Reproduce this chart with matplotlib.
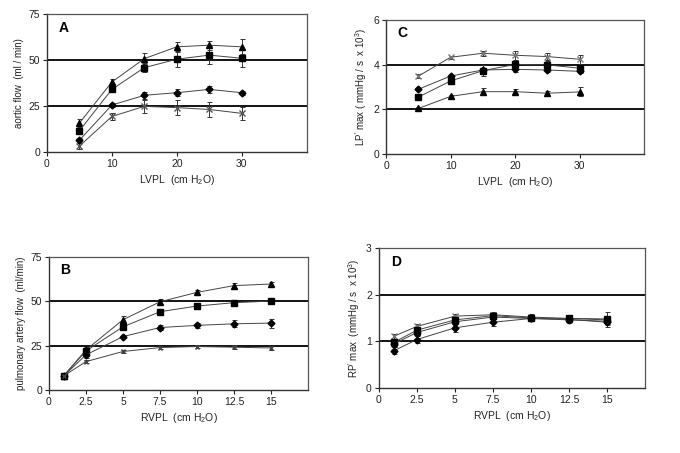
import matplotlib
matplotlib.use("Agg")
import matplotlib.pyplot as plt

plt.rcParams['font.family'] = ['Liberation Sans', 'DejaVu Sans']
plt.rcParams['mathtext.fontset'] = 'custom'
plt.rcParams['mathtext.rm'] = 'Liberation Sans'
plt.rcParams['mathtext.it'] = 'Liberation Sans'

# Panel A: aortic flow vs LVPL
lvpl = [5, 10, 15, 20, 25, 30]
a_tri = [15.8, 38.1, 50.8, 57.2, 58.1, 57.2]
a_tri_err = [2.0, 1.5, 3.0, 2.5, 2.5, 4.0]
a_sq = [11.6, 34.1, 45.9, 50.5, 52.7, 51.0]
a_sq_err = [1.0, 1.0, 2.5, 4.0, 5.0, 5.0]
a_dia = [6.5, 25.6, 30.9, 32.3, 34.1, 32.3]
a_dia_err = [1.0, 1.0, 2.0, 2.0, 2.0, 1.0]
a_star = [3.3, 19.4, 24.9, 24.2, 23.2, 21.1]
a_star_err = [1.5, 2.0, 3.5, 4.0, 4.0, 3.5]

# Panel C: LP' max vs LVPL
c_star = [3.49, 4.33, 4.51, 4.42, 4.36, 4.24]
c_star_err = [0.07, 0.07, 0.12, 0.2, 0.15, 0.2]
c_dia = [2.90, 3.49, 3.76, 3.79, 3.76, 3.70]
c_dia_err = [0.04, 0.06, 0.1, 0.1, 0.08, 0.08]
c_sq = [2.55, 3.27, 3.73, 4.01, 3.99, 3.84]
c_sq_err = [0.05, 0.1, 0.25, 0.2, 0.15, 0.15]
c_tri = [2.04, 2.58, 2.79, 2.79, 2.72, 2.78]
c_tri_err = [0.05, 0.07, 0.15, 0.12, 0.12, 0.2]

# Panel B: pulmonary artery flow vs RVPL
rvpl = [1, 2.5, 5, 7.5, 10, 12.5, 15]
b_tri = [8.0, 22.6, 39.6, 49.7, 55.0, 58.8, 59.7]
b_tri_err = [0.8, 1.5, 2.0, 1.5, 1.5, 1.5, 1.2]
b_sq = [8.1, 22.0, 35.6, 44.1, 47.3, 49.2, 50.1]
b_sq_err = [0.8, 1.5, 1.5, 1.2, 1.2, 1.0, 1.0]
b_dia = [8.0, 19.8, 30.1, 35.2, 36.4, 37.3, 37.7]
b_dia_err = [0.8, 1.5, 1.0, 1.5, 1.5, 2.0, 2.5]
b_star = [8.0, 16.0, 21.7, 23.9, 24.5, 24.1, 23.7]
b_star_err = [0.8, 1.0, 1.0, 1.0, 1.0, 1.0, 1.0]

# Panel D: RP' max vs RVPL
d_star = [1.11, 1.32, 1.54, 1.57, 1.52, 1.49, 1.46]
d_star_err = [0.05, 0.05, 0.04, 0.05, 0.06, 0.05, 0.16]
d_sq = [0.98, 1.24, 1.46, 1.55, 1.50, 1.49, 1.48]
d_sq_err = [0.06, 0.05, 0.05, 0.05, 0.05, 0.05, 0.06]
d_dia = [0.95, 1.19, 1.42, 1.52, 1.49, 1.46, 1.43]
d_dia_err = [0.06, 0.05, 0.05, 0.05, 0.05, 0.05, 0.05]
d_tri = [0.80, 1.04, 1.29, 1.41, 1.49, 1.47, 1.41]
d_tri_err = [0.07, 0.07, 0.08, 0.08, 0.05, 0.05, 0.05]

fig = plt.figure(figsize=(6.8, 4.53), dpi=100)

def style(ax, xlim, xticks, xticklabels, ylim, yticks, ylabel, xlabel, letter):
    ax.set_xlim(*xlim)
    ax.set_ylim(*ylim)
    ax.set_xticks(xticks)
    ax.set_xticklabels(xticklabels)
    ax.set_yticks(yticks)
    for y in yticks[1:-1]:
        ax.axhline(y, color='black', lw=1.3, zorder=1)
    for s in ['left', 'bottom']:
        ax.spines[s].set_color('#333333')
        ax.spines[s].set_linewidth(1.0)
    for s in ['top', 'right']:
        ax.spines[s].set_color('#555555')
        ax.spines[s].set_linewidth(0.9)
    ax.tick_params(axis='both', labelsize=7.5, colors='#222222', length=3, width=0.8,
                   direction='out', pad=2)
    ax.set_ylabel(ylabel, fontsize=7, color='#222222', labelpad=3)
    ax.set_xlabel(xlabel, fontsize=7.5, color='#222222', labelpad=3)
    ax.text(0.045, 0.9, letter, transform=ax.transAxes, fontsize=10, fontweight='bold',
            va='center', ha='left')

def series(ax, x, y, e, marker, ms, color='black', mfc='black'):
    ax.errorbar(x, y, yerr=e, fmt='-', color='#444444', lw=0.7, marker=marker, ms=ms,
                mfc=mfc, mec=color, ecolor='#333333', elinewidth=0.7, capsize=1.8,
                capthick=0.7, zorder=3)

# A
axA = fig.add_axes([0.069, 0.664, 0.382, 0.305])
series(axA, lvpl, a_tri, a_tri_err, '^', 5)
series(axA, lvpl, a_sq, a_sq_err, 's', 5)
series(axA, lvpl, a_dia, a_dia_err, 'D', 3.5)
series(axA, lvpl, a_star, a_star_err, 'x', 4, color='#555555', mfc='#555555')
style(axA, (0, 40), [0, 10, 20, 30], ['0', '10', '20', '30'], (0, 75), [0, 25, 50, 75],
      'aortic flow  (ml / min)', r'LVPL  (cm H$_2$O)', 'A')

# C
axC = fig.add_axes([0.568, 0.660, 0.379, 0.296])
series(axC, lvpl, c_star, c_star_err, 'x', 4, color='#777777', mfc='#777777')
series(axC, lvpl, c_dia, c_dia_err, 'D', 3.5)
series(axC, lvpl, c_sq, c_sq_err, 's', 5)
series(axC, lvpl, c_tri, c_tri_err, '^', 4.5)
style(axC, (0, 40), [0, 10, 20, 30], ['0', '10', '20', '30'], (0, 6), [0, 2, 4, 6],
      r'LP$^{\prime}$ max ( mmHg / s  x 10$^3$)', r'LVPL  (cm H$_2$O)', 'C')

# B
axB = fig.add_axes([0.072, 0.139, 0.381, 0.294])
series(axB, rvpl, b_tri, b_tri_err, '^', 5)
series(axB, rvpl, b_sq, b_sq_err, 's', 5)
series(axB, rvpl, b_dia, b_dia_err, 'D', 3.5)
series(axB, rvpl, b_star, b_star_err, 'x', 3.5, color='#444444', mfc='#444444')
style(axB, (0, 17.5), [0, 2.5, 5, 7.5, 10, 12.5, 15],
      ['0', '2.5', '5', '7.5', '10', '12.5', '15'], (0, 75), [0, 25, 50, 75],
      'pulmonary artery flow  (ml/min)', r'RVPL  (cm H$_2$O)', 'B')

# D
axD = fig.add_axes([0.557, 0.143, 0.392, 0.310])
series(axD, rvpl, d_star, d_star_err, 'x', 4, color='#777777', mfc='#777777')
series(axD, rvpl, d_sq, d_sq_err, 's', 5)
series(axD, rvpl, d_dia, d_dia_err, 'o', 4.5)
series(axD, rvpl, d_tri, d_tri_err, 'D', 3.5)
style(axD, (0, 17.5), [0, 2.5, 5, 7.5, 10, 12.5, 15],
      ['0', '2.5', '5', '7.5', '10', '12.5', '15'], (0, 3), [0, 1, 2, 3],
      r'RP$^{\prime}$ max  (mmHg / s  x 10$^3$)', r'RVPL  (cm H$_2$O)', 'D')

fig.savefig('out.png', dpi=100)
